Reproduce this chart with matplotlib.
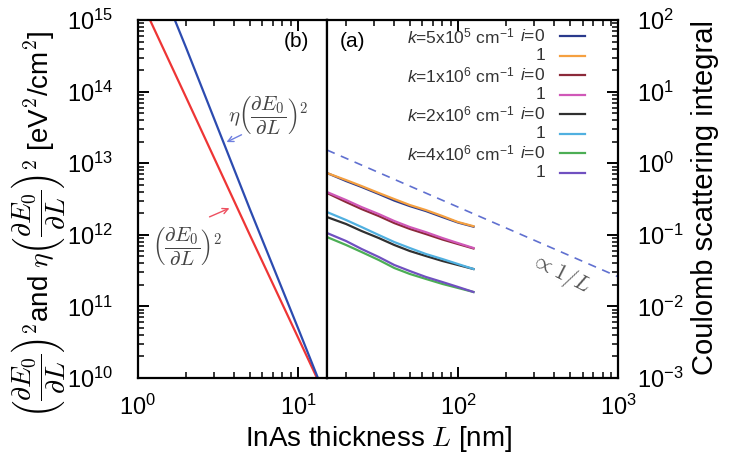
import matplotlib
matplotlib.use('Agg')
import matplotlib.pyplot as plt
from matplotlib.ticker import LogLocator, NullFormatter

plt.rcParams['font.family'] = ['Liberation Sans', 'DejaVu Sans']
plt.rcParams['mathtext.fontset'] = 'cm'
plt.rcParams['mathtext.rm'] = 'Liberation Sans'
plt.rcParams['mathtext.it'] = 'Liberation Sans:italic'

# panel (b): squared derivative of the confinement energy vs thickness
L_red = [1.0, 2.0, 5.0, 10.0, 15.2]
dE2 = [2.3e15, 8.3e13, 1.0e12, 3.7e10, 5.0e9]
L_blue = [1.5, 2.0, 5.0, 10.0, 15.2]
eta_dE2 = [2.0e15, 4.1e14, 2.3e12, 5.0e10, 4.8e9]

# panel (a): Coulomb scattering integral
L_coul = [15.2, 20, 25, 32, 40, 50, 63, 80, 100, 125]
coul = {
    ('5', '0'): [0.730, 0.564, 0.466, 0.372, 0.301, 0.252, 0.215, 0.177, 0.1485, 0.130],
    ('5', '1'): [0.730, 0.582, 0.480, 0.384, 0.316, 0.261, 0.222, 0.183, 0.151, 0.132],
    ('1', '0'): [0.384, 0.287, 0.229, 0.183, 0.146, 0.121, 0.1026, 0.086, 0.0744, 0.0645],
    ('1', '1'): [0.396, 0.306, 0.244, 0.195, 0.156, 0.1285, 0.109, 0.0902, 0.0767, 0.0655],
    ('2', '0'): [0.177, 0.1416, 0.113, 0.0902, 0.0721, 0.0594, 0.0506, 0.0431, 0.0379, 0.0333],
    ('2', '1'): [0.208, 0.161, 0.1285, 0.0994, 0.0793, 0.0654, 0.054, 0.0459, 0.0391, 0.0333],
    ('4', '0'): [0.0931, 0.0721, 0.0575, 0.0445, 0.0344, 0.0284, 0.0242, 0.0206, 0.0181, 0.0159],
    ('4', '1'): [0.106, 0.0819, 0.0634, 0.049, 0.0379, 0.0312, 0.0258, 0.0219, 0.0187, 0.0159],
}
k_labels = {'5': r'$k$=5x10$^5$ cm$^{-1}$', '1': r'$k$=1x10$^6$ cm$^{-1}$',
            '2': r'$k$=2x10$^6$ cm$^{-1}$', '4': r'$k$=4x10$^6$ cm$^{-1}$'}
colors = {('5', '0'): '#2a3a8c', ('5', '1'): '#f5a040',
          ('1', '0'): '#8c2a3a', ('1', '1'): '#d058b8',
          ('2', '0'): '#303030', ('2', '1'): '#50b0e0',
          ('4', '0'): '#4cae55', ('4', '1'): '#7050c0'}
order = [('5', '0'), ('5', '1'), ('1', '0'), ('1', '1'),
         ('2', '0'), ('2', '1'), ('4', '0'), ('4', '1')]

L_ref = [15.2, 1000]
inv_L = [1.53, 0.026]

L_split = 15.2

fig = plt.figure(figsize=(7.3, 4.53), dpi=100)
axb = fig.add_axes([0.189, 0.1656, 0.259, 0.790])
axa = fig.add_axes([0.448, 0.1656, 0.3986, 0.790])

for ax in (axb, axa):
    ax.set_xscale('log')
    ax.set_yscale('log')
    for s in ax.spines.values():
        s.set_linewidth(1.6)
        s.set_color('black')

# ---- panel (b)
axb.plot(L_red, dE2, color='#ee3535', lw=1.6)
axb.plot(L_blue, eta_dE2, color='#2c4bb0', lw=1.6)
axb.set_xlim(1, L_split)
axb.set_ylim(1e10, 1e15)
axb.text(0.84, 0.94, '(b)', transform=axb.transAxes, ha='center', va='center', fontsize=15)

frac = r'\left(\dfrac{\partial E_0}{\partial L}\right)^2'
axb.text(3.65, 4.6e13, r'$\eta' + frac + '$', ha='left', va='center', fontsize=15,
         color='#444444')
axb.annotate('', xy=(3.45, 1.9e13), xytext=(4.6, 2.6e13),
             arrowprops=dict(arrowstyle='->', color='#6f80e0', lw=1.0))
axb.text(1.22, 6.8e11, '$' + frac + '$', ha='left', va='center', fontsize=15,
         color='#444444')
axb.annotate('', xy=(3.87, 2.44e12), xytext=(2.70, 1.72e12),
             arrowprops=dict(arrowstyle='->', color='#ee5060', lw=1.0))

# ---- panel (a)
for key in order:
    axa.plot(L_coul, coul[key], color=colors[key], lw=1.6)
axa.plot(L_ref, inv_L, color='#6070d0', lw=1.2, ls=(0, (5, 4)))
axa.text(434, 0.0293, r'$\propto 1/L$', rotation=-27, rotation_mode='anchor',
         ha='center', va='center', fontsize=16, color='#555555')
axa.set_xlim(L_split, 1000)
axa.set_ylim(1e-3, 1e2)
axa.text(0.086, 0.94, '(a)', transform=axa.transAxes, ha='center', va='center', fontsize=15)

# ticks: inward, top too; y ticks only on the outer spines
for ax in (axb, axa):
    for axis in (ax.xaxis, ax.yaxis):
        axis.set_major_locator(LogLocator(base=10, numticks=20))
        axis.set_minor_locator(LogLocator(base=10, subs=range(2, 10), numticks=100))
        axis.set_minor_formatter(NullFormatter())
    ax.tick_params(which='both', direction='in', top=True, bottom=True,
                   color='black', labelcolor='black', labelsize=17)
    ax.tick_params(which='major', length=8, width=1.4)
    ax.tick_params(which='minor', length=4.5, width=1.1)
    ax.tick_params(axis='x', pad=12)
axb.tick_params(axis='y', which='both', left=True, right=False, pad=18)
axa.tick_params(axis='y', which='both', left=False, right=True,
                labelleft=False, labelright=True, pad=14)

# legend: text right-aligned, line sample after text
y0, dy = 0.955, 0.0545
for n, key in enumerate(order):
    y = y0 - n * dy
    if key[1] == '0':
        t = axa.text(0.645, y, k_labels[key[0]], transform=axa.transAxes, ha='right',
                     va='center', fontsize=12.5, color='#333333')
        t.set_math_fontfamily('custom')
        t = axa.text(0.75, y, r'$i$=0', transform=axa.transAxes, ha='right', va='center',
                     fontsize=12.5, color='#333333')
        t.set_math_fontfamily('custom')
    else:
        axa.text(0.75, y, '1', transform=axa.transAxes, ha='right', va='center',
                 fontsize=12.5, color='#333333')
    axa.plot([0.80, 0.885], [y, y], transform=axa.transAxes, color=colors[key], lw=1.6)

fig.text(0.518, 0.03, r'InAs thickness $L$ [nm]', ha='center', va='center', fontsize=20)
fig.text(0.052, 0.505, r'$' + frac + r'$and $\eta' + frac + r'$ [eV$^2$/cm$^2$]',
         rotation=90, ha='center', va='center', fontsize=20)
fig.text(0.966, 0.563, 'Coulomb scattering integral', rotation=90, ha='center',
         va='center', fontsize=21)

fig.savefig('out.png', dpi=100)
